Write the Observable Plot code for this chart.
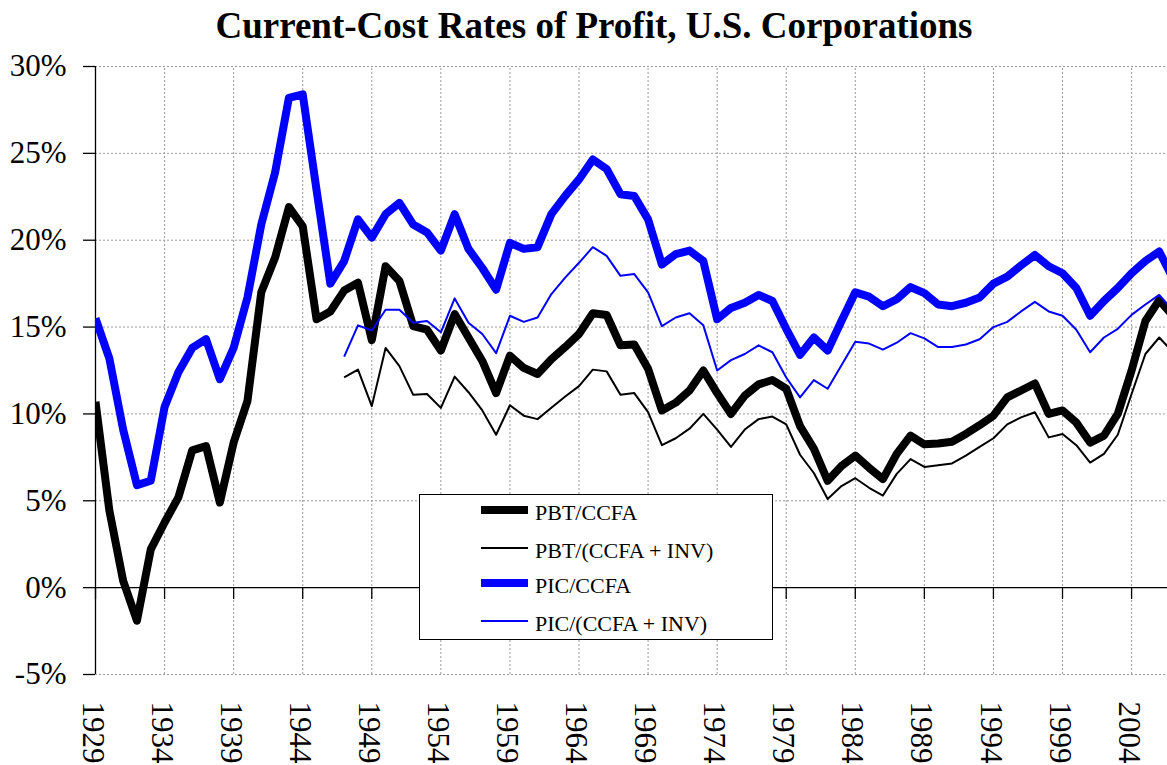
<!DOCTYPE html>
<html><head><meta charset="utf-8">
<script src="https://cdn.jsdelivr.net/npm/d3@7"></script>
<script src="https://cdn.jsdelivr.net/npm/@observablehq/plot@0.6"></script>
<style>
html,body{margin:0;padding:0;background:#fff;overflow:hidden;}
#wrap{position:relative;width:1167px;height:765px;overflow:hidden;}
#chart{position:absolute;left:0;top:0;}
#title{position:absolute;left:0;top:8px;width:1188px;text-align:center;font-family:"Liberation Serif",serif;font-weight:bold;font-size:37px;line-height:36px;white-space:nowrap;color:#000;}
#legend{position:absolute;left:419px;top:494px;width:352px;height:144px;border:1.5px solid #000;background:#fff;font-family:"Liberation Serif",serif;font-size:22px;color:#000;}
.row{position:absolute;left:0;height:30px;line-height:30px;width:100%;}
.sw{position:absolute;left:61px;width:47px;}
.lab{position:absolute;left:115px;top:3px;white-space:nowrap;}
</style></head>
<body>
<div id="wrap">
  <div id="chart"></div>
  <div id="title">Current-Cost Rates of Profit, U.S. Corporations</div>
  <div id="legend"></div>
</div>
<script>
// Categories
const years = d3.range(1929, 2008);          // 1929 … 2007
const yearsInv = d3.range(1947, 2008);       // 1947 … 2007
const xTicks = [1929,1934,1939,1944,1949,1954,1959,1964,1969,1974,1979,1984,1989,1994,1999,2004];
const yTicks = [-5,0,5,10,15,20,25,30];

// Series (percent)
const pbtCcfa = [10.7,4.45,0.4,-1.9,2.2,3.75,5.2,7.9,8.15,4.9,8.35,10.75,17.0,19.0,21.9,20.8,15.45,15.9,17.1,17.55,
  14.25,18.5,17.65,15.05,14.85,13.65,15.75,14.4,13.05,11.2,13.35,12.65,12.3,13.15,13.85,14.6,15.8,15.7,13.95,14.0,
  12.6,10.2,10.65,11.35,12.5,11.2,10.0,11.05,11.7,11.95,11.45,9.3,8.0,6.15,7.0,7.6,6.9,6.25,7.7,8.75,
  8.25,8.3,8.4,8.85,9.35,9.9,10.95,11.35,11.75,10.0,10.2,9.5,8.35,8.75,10.0,12.5,15.35,16.55,15.65];
const picCcfa = [15.5,13.2,9.1,5.9,6.15,10.4,12.4,13.8,14.3,12.0,13.8,16.7,20.9,23.9,28.2,28.4,22.9,17.5,18.8,21.2,
  20.15,21.5,22.15,20.9,20.45,19.4,21.5,19.5,18.4,17.15,19.85,19.5,19.6,21.5,22.55,23.5,24.65,24.1,22.65,22.55,
  21.2,18.6,19.2,19.4,18.8,15.45,16.1,16.4,16.85,16.5,14.9,13.4,14.4,13.65,15.35,17.0,16.75,16.2,16.6,17.3,
  16.95,16.3,16.2,16.4,16.7,17.5,17.9,18.55,19.15,18.5,18.1,17.25,15.65,16.5,17.25,18.1,18.8,19.35,17.8];
const pbtCcfaInv = [12.1,12.55,10.45,13.8,12.75,11.1,11.15,10.35,12.15,11.25,10.2,8.8,10.5,9.9,9.7,10.35,11.0,11.6,12.55,12.45,
  11.1,11.2,10.1,8.2,8.6,9.15,10.0,9.1,8.1,9.1,9.7,9.85,9.4,7.65,6.6,5.1,5.85,6.3,5.75,5.3,
  6.55,7.4,6.95,7.05,7.15,7.6,8.1,8.6,9.4,9.8,10.1,8.65,8.85,8.2,7.2,7.7,8.8,11.15,13.45,14.4,13.55];
const picCcfaInv = [13.3,15.1,14.8,16.0,16.0,15.25,15.35,14.7,16.65,15.25,14.6,13.5,15.65,15.3,15.55,16.9,17.85,18.7,19.6,19.1,
  17.95,18.05,17.0,15.05,15.55,15.8,15.1,12.5,13.1,13.45,13.95,13.55,12.1,10.95,11.95,11.45,12.8,14.15,14.05,13.7,
  14.1,14.65,14.35,13.85,13.85,14.0,14.3,15.0,15.3,15.9,16.45,15.9,15.65,14.85,13.55,14.4,14.9,15.7,16.3,16.85,15.95];

const seriesDefs = [
  {name:"PBT/CCFA", xs:years, ys:pbtCcfa, color:"#000000", width:8},
  {name:"PBT/(CCFA + INV)", xs:yearsInv, ys:pbtCcfaInv, color:"#000000", width:2},
  {name:"PIC/CCFA", xs:years, ys:picCcfa, color:"#0000ff", width:8},
  {name:"PIC/(CCFA + INV)", xs:yearsInv, ys:picCcfaInv, color:"#0000ff", width:2}
];

const grid = {stroke:"#9a9a9a", strokeOpacity:1, strokeDasharray:"2,2", strokeWidth:1};

const chart = Plot.plot({
  width:1167, height:765,
  marginLeft:95, marginRight:0, marginTop:66, marginBottom:91,
  x:{type:"linear", domain:[1929, 2006.6]},
  y:{domain:[-5, 30]},
  style:{fontFamily:"Liberation Serif, serif", fontSize:"31px", background:"transparent", color:"#000"},
  marks:[
    Plot.ruleY(yTicks.filter(d => d !== 0), grid),
    Plot.ruleX(xTicks.filter(d => d !== 1929), {...grid, y1:-5, y2:30}),
    Plot.ruleY([0], {stroke:"#000", strokeWidth:1.3}),
    Plot.ruleX([1929], {y1:-5, y2:30, stroke:"#000", strokeWidth:1.3}),
    Plot.ruleX(xTicks, {y1:0, y2:-5, insetBottom:75, stroke:"#000", strokeWidth:1.3}),
    Plot.axisY({ticks:yTicks, tickSize:12, tickPadding:17, tickFormat:d => `${d}%`, fontSize:31, strokeWidth:1.3, label:null}),
    Plot.axisX({ticks:xTicks, tickSize:0, tickRotate:90, tickPadding:27, tickFormat:d => String(d), fontSize:31, dx:-3, label:null}),
    ...seriesDefs.map(s => Plot.line(s.xs.map((yr, i) => ({year:yr, value:s.ys[i]})), {
      x:"year", y:"value", stroke:s.color, strokeWidth:s.width,
      strokeLinecap:"butt", strokeLinejoin:"round", clip:true
    }))
  ]
});
document.getElementById("chart").appendChild(chart);

// Legend
const legend = document.getElementById("legend");
const rowCenters = [14.5, 52.8, 87.8, 126.2];
seriesDefs.forEach((s, i) => {
  const row = document.createElement("div");
  row.className = "row";
  row.style.top = (rowCenters[i] - 15) + "px";
  const sw = document.createElement("div");
  sw.className = "sw";
  sw.style.height = s.width + "px";
  sw.style.top = (15 - s.width / 2) + "px";
  sw.style.background = s.color;
  const lab = document.createElement("div");
  lab.className = "lab";
  lab.textContent = s.name;
  row.appendChild(sw); row.appendChild(lab);
  legend.appendChild(row);
});
</script>
</body></html>
